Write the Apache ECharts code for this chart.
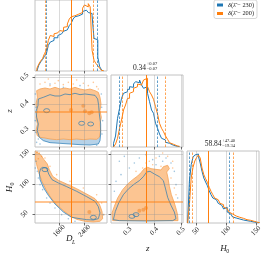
<!DOCTYPE html>
<html><head><meta charset="utf-8">
<script src="https://cdn.jsdelivr.net/npm/echarts@6/dist/echarts.min.js"></script>
<style>html,body{margin:0;padding:0;background:#fff;}#chart{width:275px;height:260px;}</style>
</head><body><div id="chart"></div>
<script>
// ---------------- data ----------------
const SERIES_A = 'δ(λ̄ − 230)';
const SERIES_B = 'δ(λ̄ − 200)';

const DL_RANGE = [840, 3110];
const Z_RANGE = [0.238, 0.508];
const H0_RANGE = [35, 155];
const HIST_MAX = 72;
const DL_TICKS = [1600, 2400];
const Z_TICKS = [0.3, 0.4, 0.5];
const H0_TICKS = [50, 100, 150];

const TRUTH_DL = 1980, TRUTH_Z = 0.372, TRUTH_H0 = 70;
const Q_DL_A = [1180, 2790], Q_DL_B = [1150, 2680];
const Q_Z_A = [0.27, 0.41], Q_Z_B = [0.28, 0.44];
const Q_H0_A = [39.5, 106.24], Q_H0_B = [43.3, 111.7];

const TITLE_Z = ['0.34', '+0.07', '−0.07'];
const TITLE_H0 = ['58.84', '+47.40', '−19.34'];

// histograms (bin edges + heights)
const dlEdges = [900,960,1020,1080,1140,1200,1260,1320,1380,1440,1500,1560,1620,1680,1740,1800,1860,1920,1980,2040,2100,2160,2220,2280,2340,2400,2460,2520,2580,2640,2700,2760,2820,2880,2940,3000];
const dlHistA = [2,6,9.3,11.7,15,17.7,26,29.3,31,33.7,33.7,36,37.7,38.3,40.3,41.7,43.7,46,48.3,52.7,55,56,57,57.7,60.3,61.7,62.7,59.3,58.3,56,33,31.7,14,4.3,1];
const dlHistB = [2.7,7,10.3,12.7,17.7,21,31,36,35,37.7,38.7,37.7,41,40.3,44.3,45,47.7,52.7,55,56,56,57.7,56,59.3,63.7,67,65,68.3,65,21,11,7.7,5.3,2.7,0.5];

const zEdges = [0.2475,0.255,0.2625,0.27,0.2775,0.285,0.2925,0.3,0.3075,0.315,0.3225,0.33,0.3375,0.345,0.3525,0.36,0.3675,0.375,0.3825,0.39,0.3975,0.405,0.4125,0.42,0.4275,0.435,0.4425,0.45,0.4575,0.465,0.4725,0.48,0.4875,0.495];
const zHistA = [3.7,11,28.7,38.7,48.7,53.7,55.3,57.7,60.3,59.7,63,65.3,64.3,67,62,58.7,60.3,53.7,45.3,37,33.7,23.7,18.7,13,8.7,7,4.7,3.7,2.3,1.7,1,0.7,0.3];
const zHistB = [1,3,8.7,18.7,27,37,42,48.7,53.7,55.3,58.7,60.3,63,62,63.7,67,68.7,60.3,55.3,52,47.7,40.3,33,23.7,18.7,15.3,11,7.7,4.3,2.7,1.7,1,0.7];

const h0Edges = [36,39,42,45,48,51,54,57,60,63,66,69,72,75,78,81,84,87,90,93,96,99,102,105,108,111,114,117,120,123,126,129,132,135,138,141,144,147,150,153,156];
const h0HistA = [1.7,41.7,58.3,65.7,68,69,66.7,60,51.7,45,41,37.3,32.3,28.3,25,23.3,21.7,19.7,17.7,16.3,14,15.7,11,9,7,6,5,4.3,4,3.3,3,2.7,2.3,2,1.7,1.3,1,0.7,0.3,0.1];
const h0HistB = [0.3,18.3,45,55.7,62,65.5,68,65,55,48.3,44.3,40.7,35.7,31.7,28.3,25,23.3,21.7,19.7,18.3,16,14.3,13,11,9,7.7,7,6.3,5.7,5,4.7,4,3.3,3,2.7,2.3,1.7,1,0.7,0.3];

// 2D panel: z vs D_L
const zdlOuterB = [[892,0.4493],[998,0.4555],[1155,0.4593],[1313,0.4555],[1470,0.4618],[1628,0.4555],[1786,0.4593],[1943,0.4555],[2101,0.4618],[2259,0.4555],[2416,0.4518],[2574,0.4555],[2732,0.4493],[2837,0.443],[2889,0.4243],[2921,0.3993],[2889,0.3743],[2931,0.3493],[2889,0.3243],[2910,0.2993],[2868,0.2743],[2784,0.2668],[2574,0.268],[2364,0.2655],[2153,0.268],[1943,0.2655],[1733,0.268],[1523,0.2655],[1313,0.268],[1155,0.2718],[998,0.2743],[913,0.2805],[871,0.2993],[913,0.3243],[871,0.3493],[913,0.3743],[871,0.3993],[913,0.4243]];
const zdlOuterA = [[945,0.418],[1102,0.4243],[1313,0.4343],[1470,0.4293],[1628,0.4293],[1786,0.4368],[1943,0.4343],[2101,0.4393],[2259,0.4343],[2416,0.4368],[2574,0.4343],[2732,0.4318],[2816,0.418],[2847,0.393],[2868,0.3618],[2910,0.3243],[2910,0.2868],[2889,0.2618],[2837,0.2493],[2574,0.2455],[2259,0.2468],[1943,0.2493],[1628,0.2518],[1313,0.2543],[1102,0.2618],[976,0.2743],[913,0.2993],[945,0.3243],[892,0.3493],[871,0.3718],[934,0.393]];
const zdlPeaksB = [[2364,0.393],[2416,0.3718],[2553,0.3643],[2626,0.368],[1975,0.3768]];
const zdlLoopsA = [[2311,0.3268],[2595,0.3243],[1208,0.3743]];
const zdlDotsB = [[998,0.4743],[1155,0.4805],[1313,0.468],[1470,0.4768],[1575,0.4868],[1733,0.4718],[1891,0.4805],[2048,0.4743],[2153,0.4893],[2364,0.4768],[2521,0.468],[2679,0.4805],[2784,0.4643],[2837,0.4555],[1260,0.493]];
const zdlDotsA = [[850,0.4368],[871,0.3868],[850,0.3368],[861,0.293],[892,0.2555],[998,0.2493],[945,0.268],[2942,0.3868],[2973,0.3368],[2952,0.2868],[2931,0.4368],[1733,0.4618],[2259,0.468],[1313,0.4743],[2784,0.2443]];

// 2D panel: H0 vs D_L
const hdlOuterB = [[871,153.3],[998,150],[1123,140.6],[1229,133.3],[1292,123.9],[1397,112.8],[1576,106.1],[1838,100],[2153,92.2],[2469,83.3],[2731,75.6],[2868,66.7],[2952,54.4],[2973,42.2],[2889,37.8],[2679,36.7],[2416,37.8],[2153,41.1],[1943,47.2],[1733,55.6],[1523,65.6],[1334,77.8],[1187,90.6],[1060,104.4],[966,118.3],[892,132.2],[845,143.3]];
const hdlOuterA = [[1081,127.8],[1208,126.7],[1271,116.7],[1376,107.2],[1576,101.7],[1838,95.6],[2153,87.8],[2469,78.9],[2731,71.1],[2837,62.2],[2889,51.7],[2837,42.2],[2679,40],[2469,40.6],[2259,42.2],[1996,44.4],[1733,53.3],[1470,66.7],[1260,81.1],[1102,94.4],[998,107.2],[976,118.3],[1018,125.6]];
const hdlPeaksB = [[2553,53.3]];
const hdlLoopsA = [[2679,44.4],[1155,123.9]];
const hdlDotsB = [[861,154.4],[913,153.3],[976,151.7],[1050,146.1],[945,142.2],[1155,143.3],[1313,129.4],[1523,115.6],[1943,104.4],[2364,93.3],[2784,82.2],[2942,68.3],[3016,48.9]];
const hdlDotsA = [[913,121.1],[945,110],[998,98.9],[1081,90.6],[1208,76.7],[1313,68.3],[1470,60],[1680,48.9],[1891,42.2],[2101,37.8],[871,137.8],[850,126.7],[2995,48.9]];

// 2D panel: H0 vs z
const hzOuterB = [[0.2443,38.9],[0.2418,51.7],[0.2505,62.8],[0.263,76.7],[0.2818,90.6],[0.3005,100],[0.3193,107.2],[0.338,113.3],[0.3505,118.9],[0.363,125.6],[0.3755,127.8],[0.388,125.6],[0.4068,124.4],[0.4255,123.3],[0.4343,128.9],[0.4505,131.1],[0.4568,125.6],[0.4468,120],[0.4518,110],[0.4568,96.1],[0.4643,82.2],[0.4755,68.3],[0.483,57.2],[0.488,47.8],[0.4893,38.9]];
const hzOuterA = [[0.2468,40.6],[0.2543,54.4],[0.2668,68.3],[0.2843,82.2],[0.3043,92.2],[0.3255,100],[0.3443,105.6],[0.3593,112.2],[0.3718,120],[0.3843,121.1],[0.4005,116.7],[0.4193,112.2],[0.4343,105.6],[0.4418,93.3],[0.4505,77.8],[0.463,64.4],[0.4755,53.3],[0.4818,42.2],[0.4693,38.9],[0.3693,38.3],[0.2693,38.9]];
const hzPeaksB = [[0.3443,55.6],[0.3593,57.2],[0.3693,60]];
const hzLoopsA = [[0.3168,46.1],[0.3318,48.9]];
const hzDotsA = [[0.2693,137.8],[0.288,146.1],[0.3068,126.7],[0.3255,135],[0.3443,143.3],[0.3693,148.9],[0.3943,140.6],[0.4068,132.2],[0.4193,146.1],[0.4318,137.8],[0.4443,143.3],[0.463,135],[0.4755,121.1],[0.4818,98.9],[0.488,76.7],[0.2568,104.4],[0.2505,87.8],[0.2755,115.6]];
const hzDotsB = [[0.3818,137.8],[0.4068,143.3],[0.4318,151.7],[0.4505,146.1],[0.4693,137.8],[0.463,110],[0.4755,93.3],[0.4818,82.2],[0.4255,129.4],[0.3943,132.2],[0.3693,135],[0.3568,126.7],[0.3318,121.1],[0.4693,126.7]];

// ---------------- styling / building ----------------
const BLUE = '#1f77b4', ORANGE = '#ff7f0e';
const FILL_B = '#fcc592', EDGE_B = '#f5a256', FILL_A = '#b6d2e8';
const GRIDC = 'rgba(150,150,150,0.35)';
const DASH = [2.5, 1.5];
const FONT = 'Liberation Serif';

const gridPos = [[35,-1],[35,75],[111,75],[35,151],[111,151],[187,151]];
const grids = gridPos.map(([l,t]) => ({left:l, top:t, width:72, height:72, show:true,
  borderColor:'#c2c2c2', borderWidth:1, backgroundColor:'transparent'}));

function axis(gi, range, ticks, labels, fmt, isY) {
  const a = {type:'value', gridIndex:gi, min:range[0], max:range[1], axisLine:{show:false}, splitLine:{show:false}};
  if (ticks) {
    a.axisTick = {show:true, customValues:ticks, length:2.5, lineStyle:{color:'#444', width:0.8}};
    a.axisLabel = labels ? {show:true, customValues:ticks, rotate:45, align:'center', verticalAlign:'middle',
      margin: isY ? 10.5 : 8, fontSize:7, fontFamily:FONT, color:'#222', formatter:fmt}
      : {show:false, customValues:ticks};
  } else { a.axisTick = {show:false}; a.axisLabel = {show:false}; }
  return a;
}
const fInt = v => String(Math.round(v));
const fZ = v => (+v).toFixed(1);

function histData(edges, vals) {
  const d = [[edges[0], 0]];
  vals.forEach((v, i) => d.push([edges[i], v]));
  d.push([edges[vals.length], 0]);
  return d;
}
const vl = (v, color, width, type) => ({xAxis:v, lineStyle:{color, width, type:type||'solid'}});
const hl = (v, color, width, type) => ({yAxis:v, lineStyle:{color, width, type:type||'solid'}});
const mark = items => ({silent:true, symbol:['none','none'], label:{show:false}, emphasis:{disabled:true}, animation:false, z:6, data:items});

function hist(gi, name, color, edges, vals, marks) {
  return {type:'line', name, xAxisIndex:gi, yAxisIndex:gi, step:'end', data:histData(edges, vals),
    showSymbol:false, symbol:'none', lineStyle:{color, width:1}, itemStyle:{color}, z:3, silent:true,
    markLine: mark(marks)};
}
// one custom series per 2D panel: blue fill, orange fill (with edge), blue contour, drawn in order
function contours(gi, outerA, outerB) {
  return {type:'custom', xAxisIndex:gi, yAxisIndex:gi, z:2, silent:true, clip:true, data:outerB,
    renderItem:(params, api) => {
      if (params.dataIndex !== 0) return null;
      const pa = outerA.map(p => api.coord(p));
      const pb = outerB.map(p => api.coord(p));
      return {type:'group', children:[
        {type:'polygon', z2:1, shape:{points:pa}, style:{fill:FILL_A, stroke:'none'}},
        {type:'polygon', z2:2, shape:{points:pb}, style:{fill:FILL_B, stroke:EDGE_B, lineWidth:0.8}},
        {type:'polygon', z2:3, shape:{points:pa}, style:{fill:'none', stroke:'rgba(31,119,180,0.85)', lineWidth:0.8}}
      ]};
    }};
}
function dots(gi, pts, color, size, z, extra) {
  const s = {type:'scatter', xAxisIndex:gi, yAxisIndex:gi, data:pts, symbolSize:size, z, silent:true,
    itemStyle:{color}};
  return Object.assign(s, extra || {});
}
function loops(gi, pts) {
  return {type:'scatter', xAxisIndex:gi, yAxisIndex:gi, data:pts, symbolSize:[6,4], z:4, silent:true,
    itemStyle:{color:'rgba(0,0,0,0)', borderColor:BLUE, borderWidth:0.8}};
}
function panel2d(gi, outerA, outerB, peaksB, loopsA, dotsA, dotsB, xt, yt, tx, ty) {
  return [
    contours(gi, outerA, outerB),
    dots(gi, peaksB, '#f39a4c', 4, 4),
    loops(gi, loopsA),
    dots(gi, dotsA, 'rgba(31,119,180,0.55)', 1.6, 4),
    dots(gi, dotsB, 'rgba(255,127,14,0.55)', 1.6, 4, {markLine: mark([
      ...xt.map(v => vl(v, GRIDC, 1)), ...yt.map(v => hl(v, GRIDC, 1)),
      vl(tx, ORANGE, 1), hl(ty, 'rgba(255,127,14,0.45)', 2)])})
  ];
}

const QW = 0.7;
const series = [
  hist(0, SERIES_A, BLUE, dlEdges, dlHistA, Q_DL_A.map(v => vl(v, BLUE, QW, DASH))),
  hist(0, SERIES_B, ORANGE, dlEdges, dlHistB, [...DL_TICKS.map(v => vl(v, GRIDC, 1)), ...Q_DL_B.map(v => vl(v, ORANGE, QW, DASH)), vl(TRUTH_DL, ORANGE, 1)]),
  hist(2, SERIES_A, BLUE, zEdges, zHistA, Q_Z_A.map(v => vl(v, BLUE, QW, DASH))),
  hist(2, SERIES_B, ORANGE, zEdges, zHistB, [...Z_TICKS.map(v => vl(v, GRIDC, 1)), ...Q_Z_B.map(v => vl(v, ORANGE, QW, DASH)), vl(TRUTH_Z, ORANGE, 1)]),
  hist(5, SERIES_A, BLUE, h0Edges, h0HistA, Q_H0_A.map(v => vl(v, BLUE, QW, DASH))),
  hist(5, SERIES_B, ORANGE, h0Edges, h0HistB, [...H0_TICKS.map(v => vl(v, GRIDC, 1)), ...Q_H0_B.map(v => vl(v, ORANGE, QW, DASH)), vl(TRUTH_H0, ORANGE, 1)]),
  ...panel2d(1, zdlOuterA, zdlOuterB, zdlPeaksB, zdlLoopsA, zdlDotsA, zdlDotsB, DL_TICKS, Z_TICKS, TRUTH_DL, TRUTH_Z),
  ...panel2d(3, hdlOuterA, hdlOuterB, hdlPeaksB, hdlLoopsA, hdlDotsA, hdlDotsB, DL_TICKS, H0_TICKS, TRUTH_DL, TRUTH_H0),
  ...panel2d(4, hzOuterA, hzOuterB, hzPeaksB, hzLoopsA, hzDotsA, hzDotsB, Z_TICKS, H0_TICKS, TRUTH_Z, TRUTH_H0)
];

const txt = (x, y, text, size, opts) => Object.assign({type:'text', x, y, silent:true,
  style:Object.assign({text, fontSize:size, fontFamily:FONT, fill:'#222', align:'center', verticalAlign:'middle'}, (opts||{}).style || {})},
  (opts||{}).el || {});

const graphic = [
  txt(146, 68, TITLE_Z[0], 7.5, {style:{align:'right'}}),
  txt(146.8, 64.2, TITLE_Z[1], 4.5, {style:{align:'left'}}),
  txt(146.8, 68.9, TITLE_Z[2], 4.5, {style:{align:'left'}}),
  txt(221.5, 144.2, TITLE_H0[0], 7.5, {style:{align:'right'}}),
  txt(222.3, 140.6, TITLE_H0[1], 4.5, {style:{align:'left'}}),
  txt(222.3, 145.4, TITLE_H0[2], 4.5, {style:{align:'left'}}),
  txt(69.2, 239, 'D', 9, {style:{fontStyle:'italic'}}),
  txt(72, 242, 'L', 6, {style:{fontStyle:'italic', align:'left'}}),
  txt(147.7, 248.5, 'z', 9, {style:{fontStyle:'italic'}}),
  txt(223.5, 248.3, 'H', 9, {style:{fontStyle:'italic'}}),
  txt(226.3, 251, '0', 6, {style:{align:'left'}}),
  txt(10, 111, 'z', 9, {style:{fontStyle:'italic'}, el:{rotation:Math.PI/2}}),
  txt(10, 189, 'H', 9, {style:{fontStyle:'italic'}, el:{rotation:Math.PI/2}}),
  txt(12.5, 184, '0', 6, {el:{rotation:Math.PI/2}})
];

const option = {
  animation:false,
  backgroundColor:'#fff',
  grid: grids,
  xAxis:[axis(0,DL_RANGE,DL_TICKS,false), axis(1,DL_RANGE,DL_TICKS,false), axis(2,Z_RANGE,Z_TICKS,false),
         axis(3,DL_RANGE,DL_TICKS,true,fInt), axis(4,Z_RANGE,Z_TICKS,true,fZ), axis(5,H0_RANGE,H0_TICKS,true,fInt)],
  yAxis:[axis(0,[0,HIST_MAX],null), axis(1,Z_RANGE,Z_TICKS,true,fZ,true), axis(2,[0,HIST_MAX],null),
         axis(3,H0_RANGE,H0_TICKS,true,fInt,true), axis(4,H0_RANGE,H0_TICKS,false), axis(5,[0,HIST_MAX],null)],
  legend:{orient:'vertical', left:214, top:0, itemWidth:6, itemHeight:3, itemGap:2.5, itemTextGap:4,
    padding:[2,3,2,3], borderColor:'#cccccc', borderWidth:0.8, borderRadius:2, backgroundColor:'#fff',
    selectedMode:false,
    formatter: n => '{i|δ}{n|(}{i|λ̄}{n|' + n.slice(n.indexOf(' ')) + '}',
    textStyle:{fontSize:6.3, fontFamily:FONT, color:'#222',
      rich:{i:{fontStyle:'italic', fontSize:6.3, fontFamily:FONT, color:'#222'}, n:{fontSize:6.3, fontFamily:FONT, color:'#222'}}},
    data:[{name:SERIES_A, icon:'rect', itemStyle:{color:BLUE}}, {name:SERIES_B, icon:'rect', itemStyle:{color:ORANGE}}]},
  graphic,
  series
};

const chart = echarts.init(document.getElementById('chart'), null, {renderer:'canvas'});
chart.setOption(option);
</script>
</body></html>
